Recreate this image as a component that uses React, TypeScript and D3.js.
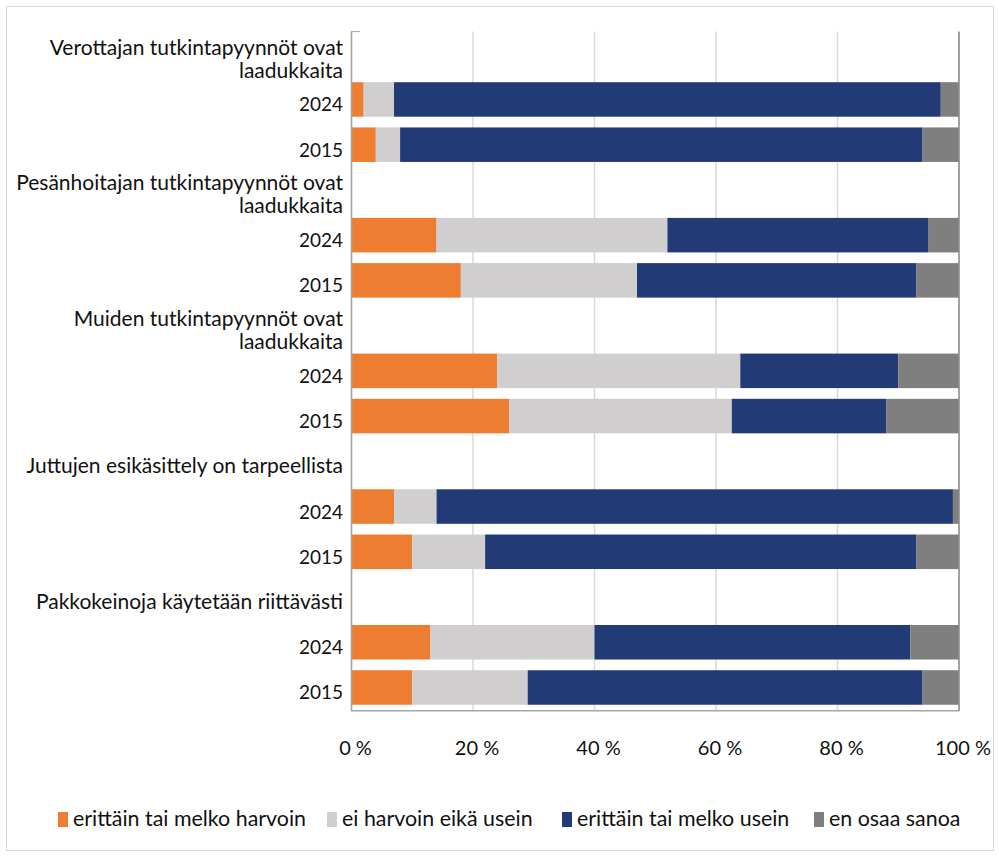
import React from "react";
import * as d3 from "d3";

// Survey groups (header rows) and the two survey years under each
const groups = [
  ["Verottajan tutkintapyynnöt ovat", "laadukkaita"],
  ["Pesänhoitajan tutkintapyynnöt ovat", "laadukkaita"],
  ["Muiden tutkintapyynnöt ovat", "laadukkaita"],
  ["Juttujen esikäsittely on tarpeellista"],
  ["Pakkokeinoja käytetään riittävästi"],
];
const years = ["2024", "2015"];

const seriesNames = [
  "erittäin tai melko harvoin",
  "ei harvoin eikä usein",
  "erittäin tai melko usein",
  "en osaa sanoa",
];
const colors = ["#ED7D31", "#D0CECE", "#223A75", "#7F7F7F"];

// one value per bar, in order group1-2024, group1-2015, group2-2024, ...
const harvoin = [2, 4, 14, 18, 24, 26, 7, 10, 13, 10];
const neutral = [5, 4, 38, 29, 40, 36.6, 7, 12, 27, 19];
const usein = [90, 86, 43, 46, 26, 25.4, 85, 71, 52, 65];
const eos = [3, 6, 5, 7, 10, 12, 1, 7, 8, 6];

const ticks = [0, 20, 40, 60, 80, 100];

const W = 999;
const H = 856;
const font = "Lato, 'Open Sans', sans-serif";

export default function App() {
  // rows: header, 2024, 2015 for each group
  const rows: { id: string; kind: string; label: string[]; bar: number }[] = [];
  let b = 0;
  groups.forEach((g, gi) => {
    rows.push({ id: `h${gi}`, kind: "header", label: g, bar: -1 });
    years.forEach((yr) => {
      rows.push({ id: `b${b}`, kind: "bar", label: [yr], bar: b });
      b++;
    });
  });

  const bars = harvoin.map((v, i) => ({
    i,
    [seriesNames[0]]: v,
    [seriesNames[1]]: neutral[i],
    [seriesNames[2]]: usein[i],
    [seriesNames[3]]: eos[i],
  }));
  const stacked = d3.stack<any>().keys(seriesNames)(bars);

  const x = d3.scaleLinear().domain([0, 100]).range([351.5, 959]);
  const y = d3
    .scaleBand()
    .domain(rows.map((r) => r.id))
    .range([31.6, 710.1])
    .paddingInner(0.237)
    .paddingOuter(0.1185);
  const barId = (i: number) => `b${i}`;

  const legendX = [58, 327, 562, 814];

  return (
    <svg
      width={W}
      height={H}
      style={{ position: "absolute", left: 0, top: 0, background: "#fff" }}
      fontFamily={font}
    >
      <rect x={6.5} y={6.5} width={987} height={844} fill="#fff" stroke="#D9D9D9" />

      {/* gridlines */}
      {ticks.map((t) => (
        <line
          key={t}
          x1={x(t)}
          x2={x(t)}
          y1={31.6}
          y2={710.5}
          stroke="#D9D9D9"
          strokeWidth={1.5}
        />
      ))}

      {/* bars */}
      {stacked.map((s, si) =>
        s.map((d, i) => (
          <rect
            key={`${si}-${i}`}
            x={x(d[0])}
            y={y(barId(i))}
            width={x(d[1]) - x(d[0])}
            height={y.bandwidth()}
            fill={colors[si]}
          />
        ))
      )}

      {/* plot frame */}
      <line x1={351.5} x2={351.5} y1={31.6} y2={710.8} stroke="#A6A6A6" strokeWidth={1.5} />
      <line x1={351} x2={959.5} y1={710.8} y2={710.8} stroke="#A6A6A6" strokeWidth={1.5} />
      <line x1={959} x2={959} y1={31.6} y2={710.8} stroke="#8C8C8C" strokeWidth={1.5} />
      <line x1={351} x2={360} y1={31.6} y2={31.6} stroke="#A6A6A6" strokeWidth={1} />

      {/* row labels */}
      {rows.map((r) => {
        const cy = (y(r.id) as number) + y.bandwidth() / 2 + 5;
        const n = r.label.length;
        return (
          <text
            key={r.id}
            x={343}
            textAnchor="end"
            fontSize={r.kind === "header" ? 21 : 19}
            fill="#111"
          >
            {r.label.map((l, li) => (
              <tspan key={li} x={343} y={cy + 7 + (li - (n - 1) / 2) * 23}>
                {l}
              </tspan>
            ))}
          </text>
        );
      })}

      {/* x tick labels */}
      {ticks.map((t) => (
        <text key={t} x={x(t) + 4} y={755} textAnchor="middle" fontSize={20} fill="#111">
          {`${t} %`}
        </text>
      ))}

      {/* legend */}
      {seriesNames.map((s, i) => (
        <g key={s} transform={`translate(${legendX[i]},812)`}>
          <rect x={0} y={0} width={10} height={15} fill={colors[i]} />
          <text x={15} y={14} fontSize={21.4} fill="#111">
            {s}
          </text>
        </g>
      ))}
    </svg>
  );
}
